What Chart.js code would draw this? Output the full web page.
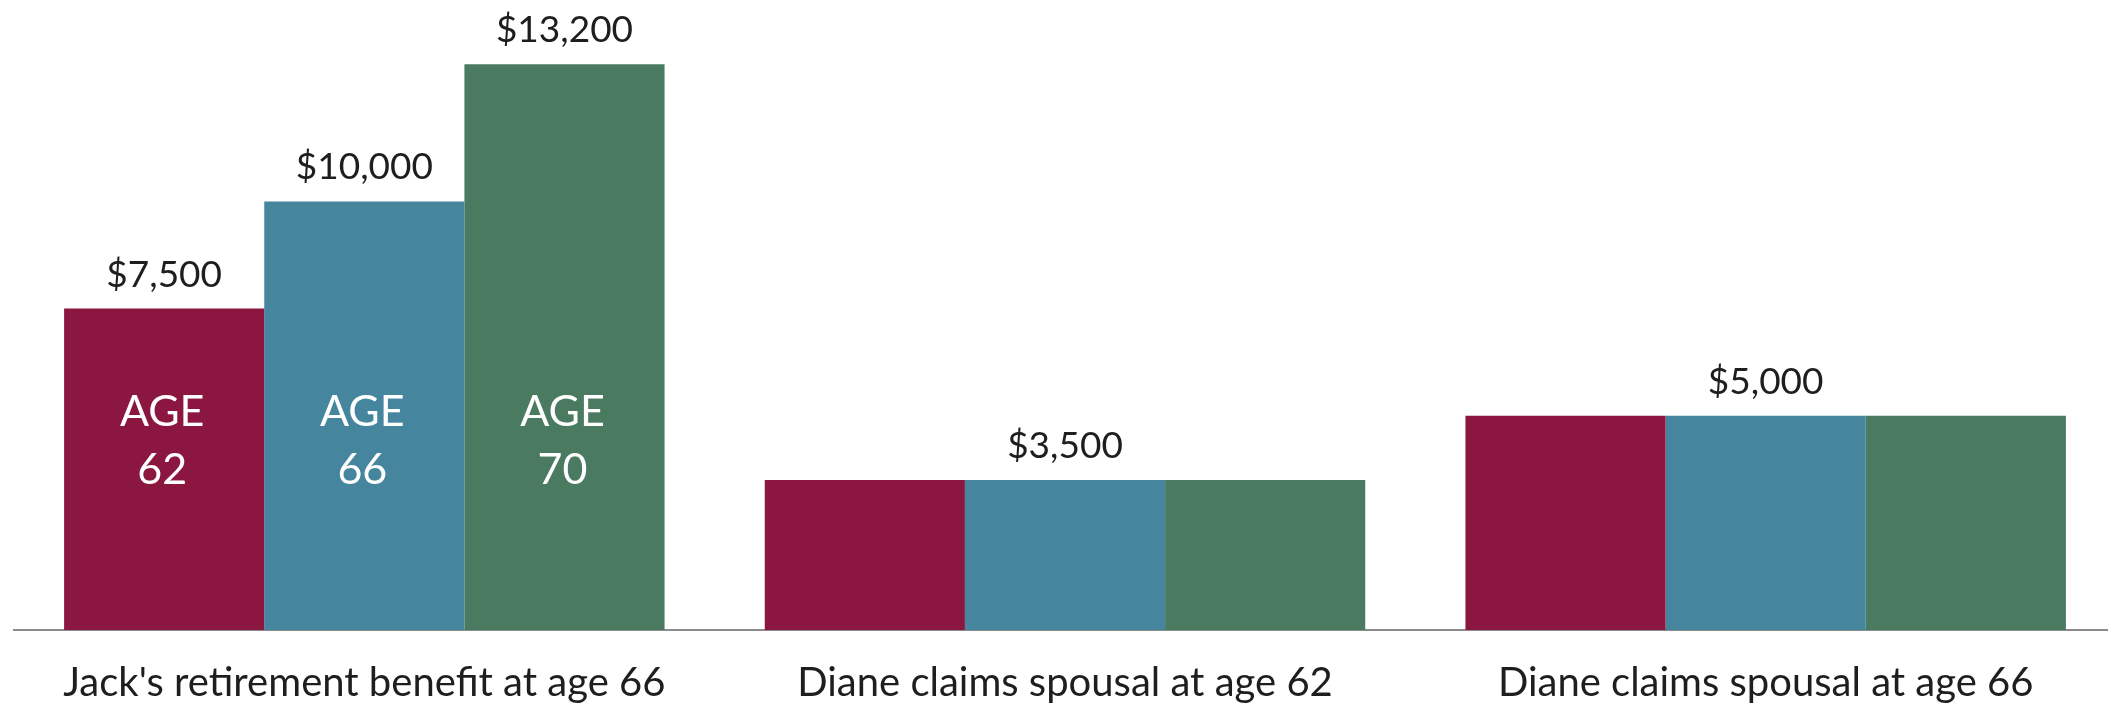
<!DOCTYPE html>
<html>
<head>
<meta charset="utf-8">
<script src="https://cdn.jsdelivr.net/npm/chart.js@4.4.1/dist/chart.umd.min.js"></script>
<style>
html, body { margin: 0; padding: 0; background: #fff; overflow: hidden; }
#wrap { position: absolute; left: 0; top: 0; width: 2118px; height: 737px; }
</style>
</head>
<body>
<div id="wrap"><canvas id="myChart"></canvas></div>
<script>
// categories and values
const categories = ["Jack's retirement benefit at age 66", "Diane claims spousal at age 62", "Diane claims spousal at age 66"];
const seriesNames = ['AGE 62', 'AGE 66', 'AGE 70'];
const age62 = [7500, 3500, 5000];
const age66 = [10000, 3500, 5000];
const age70 = [13200, 3500, 5000];
// first group labels every bar, the others only the middle one
const labelAll = [true, false, false];
const colors = ['#8B1740', '#45869E', '#4A7A60'];

function money(v) {
    return '$' + String(v).replace(/\B(?=(\d{3})+(?!\d))/g, ',');
}

const barLabels = {
    id: 'barLabels',
    afterDatasetsDraw(chart) {
        const ctx = chart.ctx;
        ctx.save();
        ctx.textAlign = 'center';
        ctx.textBaseline = 'alphabetic';
        chart.data.datasets.forEach((ds, di) => {
            const meta = chart.getDatasetMeta(di);
            meta.data.forEach((bar, i) => {
                if (labelAll[i] || di === 1) {
                    ctx.fillStyle = '#1e1e1e';
                    ctx.font = '37px Lato';
                    ctx.fillText(money(ds.data[i]), bar.x, bar.y - 22);
                }
                if (i === 0) {
                    // AGE xx written inside the first group
                    const parts = ds.label.split(' ');
                    ctx.fillStyle = '#fff';
                    ctx.font = '43px Lato';
                    ctx.fillText(parts[0], bar.x - 2, bar.base - 204);
                    ctx.fillText(parts[1], bar.x - 2, bar.base - 146);
                }
            });
        });
        ctx.restore();
    }
};

const ctx = document.getElementById('myChart').getContext('2d');
const myChart = new Chart(ctx, {
    type: 'bar',
    data: {
        labels: categories,
        datasets: [age62, age66, age70].map((d, k) => ({
            label: seriesNames[k],
            data: d,
            backgroundColor: colors[k],
            borderWidth: 0,
            barPercentage: 1,
            categoryPercentage: 0.857
        }))
    },
    options: {
        responsive: true,
        maintainAspectRatio: false,
        animation: false,
        layout: { padding: { left: 14, right: 2, top: 0, bottom: 0 } },
        plugins: {
            legend: { display: false },
            tooltip: { enabled: false }
        },
        scales: {
            x: {
                grid: { display: false, drawTicks: false },
                border: { display: true, color: '#8c8c8c', width: 2 },
                ticks: {
                    color: '#1e1e1e',
                    font: { family: 'Lato', size: 40, lineHeight: 1 },
                    padding: 33.5,
                    maxRotation: 0,
                    autoSkip: false
                }
            },
            y: { display: false, min: 0, max: 14700 }
        }
    },
    plugins: [barLabels]
});
</script>
</body>
</html>
